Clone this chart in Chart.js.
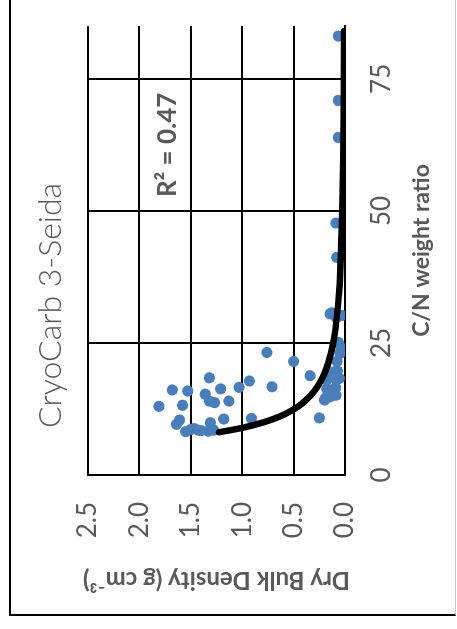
<!DOCTYPE html>
<html><head><meta charset="utf-8">
<script src="https://cdn.jsdelivr.net/npm/chart.js@4"></script>
<style>
html,body{margin:0;padding:0;background:#fff;overflow:hidden;width:457px;height:629px}
#rot{position:absolute;left:0;top:0;width:629px;height:457px;transform-origin:0 0;transform:translateY(629px) rotate(-90deg)}
#frame{position:absolute;left:13px;top:9px;width:700px;height:447px;box-sizing:border-box;border-left:2px solid #000;border-top:2px solid #000;border-bottom:1px solid #c8c8c8}
#c{position:absolute;left:0;top:0}
</style></head>
<body>
<div id="rot"><div id="frame"></div><canvas id="c" width="629" height="457"></canvas></div>
<script>
const chartTitle = 'CryoCarb 3-Seida';
const xAxisTitle = 'C/N weight ratio';
const yAxisTitle = 'Dry Bulk Density (g cm⁻³)';
const r2Label = 'R² = 0.47';
const cnTicks = [0, 25, 50, 75];
const densityTicks = [0, 0.5, 1, 1.5, 2, 2.5];

const cnRatio = [13.0, 16.1, 15.9, 18.4, 15.3, 16.3, 14.0, 13.7, 14.0, 16.6, 17.8, 13.2, 10.4, 9.6, 8.2, 8.8, 8.4, 9.9, 8.5, 10.6,
  10.7, 8.6, 8.5, 8.3, 23.2, 21.5, 16.7, 18.8, 10.8, 30.7, 29.8, 25.1, 23.0, 24.0, 21.5, 19.5, 19.7, 18.0, 18.0, 16.3,
  16.5, 14.6, 15.1, 16.1, 83.1, 70.9, 63.9, 47.7, 41.2, 30.5, 30.2, 18.9, 18.3, 14.8, 14.2, 23.6];
const dryBulkDensity = [1.81, 1.68, 1.53, 1.32, 1.36, 1.21, 1.32, 1.27, 1.13, 1.03, 0.93, 1.58, 1.61, 1.64, 1.55, 1.47, 1.40, 1.31, 1.28, 1.18,
  0.91, 1.50, 1.43, 1.33, 0.76, 0.50, 0.71, 0.34, 0.25, 0.13, 0.085, 0.065, 0.049, 0.032, 0.078, 0.114, 0.075, 0.178, 0.083, 0.178,
  0.092, 0.188, 0.088, 0.130, 0.065, 0.065, 0.065, 0.088, 0.081, 0.146, 0.032, 0.13, 0.055, 0.146, 0.20, 0.04];

const trendCN = [8.1, 8.5, 9, 10, 11, 12, 13, 14, 16, 18, 20, 23, 26, 30, 35, 40, 50, 60, 70, 84];
const trendDensity = [1.226, 1.109, 0.983, 0.788, 0.645, 0.537, 0.454, 0.389, 0.294, 0.229, 0.184, 0.137, 0.106, 0.079, 0.057, 0.043, 0.027, 0.018, 0.013, 0.009];

const R2_AT = {x: 62.5, y: 1.73};
const GREY = '#595959';
const FONT = 'Lato';

const points = cnRatio.map((x, i) => ({x: x, y: dryBulkDensity[i]}));
const trend = trendCN.map((x, i) => ({x: x, y: trendDensity[i]}));

const r2Plugin = {
  id: 'r2',
  afterDatasetsDraw(chart) {
    const ctx = chart.ctx;
    const xs = chart.scales.x, ys = chart.scales.y;
    ctx.save();
    ctx.font = 'bold 26px ' + FONT;
    ctx.fillStyle = GREY;
    ctx.textAlign = 'center';
    ctx.textBaseline = 'middle';
    ctx.fillText(r2Label, xs.getPixelForValue(R2_AT.x), ys.getPixelForValue(R2_AT.y));
    ctx.restore();
  }
};

new Chart(document.getElementById('c'), {
  type: 'scatter',
  data: {
    datasets: [
      {
        type: 'line', data: trend, order: 0,
        borderColor: '#000', borderWidth: 6.5, pointRadius: 0, fill: false,
        cubicInterpolationMode: 'monotone', borderCapStyle: 'round', borderJoinStyle: 'round'
      },
      {
        data: points, order: 1,
        backgroundColor: '#4a7ebb', borderWidth: 0, pointRadius: 5.6
      }
    ]
  },
  options: {
    responsive: false,
    devicePixelRatio: 1,
    animation: false,
    events: [],
    layout: {padding: {left: 44, right: 26, top: 0, bottom: 0}},
    plugins: {
      legend: {display: false},
      tooltip: {enabled: false},
      title: {
        display: true, text: chartTitle, color: GREY,
        font: {family: FONT, size: 32, weight: '300', lineHeight: 1.2},
        padding: {top: 31.4, bottom: 18.2}
      }
    },
    scales: {
      x: {
        type: 'linear', min: 0, max: 85,
        afterBuildTicks: s => { s.ticks = cnTicks.map(v => ({value: v})); },
        afterFit: s => { s.height = 112; },
        grid: {color: '#000', lineWidth: 2, drawTicks: false},
        border: {color: '#000', width: 2},
        ticks: {color: GREY, font: {family: FONT, size: 26}, padding: 21.4, maxRotation: 0, callback: v => String(v)},
        title: {display: true, text: xAxisTitle, color: GREY, font: {family: FONT, size: 23, weight: 'bold', lineHeight: 1.2}, padding: {top: 0, bottom: 21.5}}
      },
      y: {
        type: 'linear', min: 0, max: 2.5,
        afterBuildTicks: s => { s.ticks = densityTicks.map(v => ({value: v})); },
        afterFit: s => { s.width = 110; },
        grid: {color: '#000', lineWidth: 2, drawTicks: false},
        border: {color: '#000', width: 2},
        ticks: {color: GREY, font: {family: FONT, size: 26}, padding: 27, callback: v => Number(v).toFixed(1)},
        title: {display: true, text: yAxisTitle, color: GREY, font: {family: FONT, size: 24, weight: 'bold', lineHeight: 1.2}, padding: {top: -9.4, bottom: 0}}
      }
    }
  },
  plugins: [r2Plugin]
});
</script>
</body></html>
